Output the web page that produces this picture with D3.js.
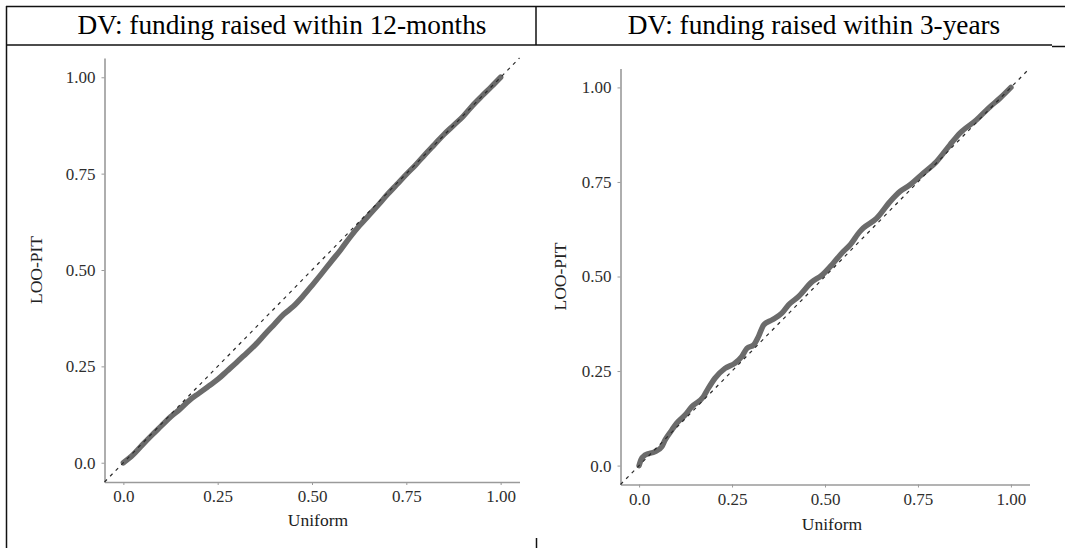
<!DOCTYPE html>
<html>
<head>
<meta charset="utf-8">
<script src="https://cdn.jsdelivr.net/npm/d3@7"></script>
<style>
  html, body { margin: 0; padding: 0; background: #fff; }
  svg { display: block; }
</style>
</head>
<body>
<svg id="chart" width="1065" height="548"></svg>
<script>
// ---- data ----
const panelTitles = ["DV: funding raised within 12-months", "DV: funding raised within 3-years"];
const xAxisTitle = "Uniform";
const yAxisTitle = "LOO-PIT";
const tickValues = [0, 0.25, 0.5, 0.75, 1.0];
const tickLabels = ["0.0", "0.25", "0.50", "0.75", "1.00"];

// left panel: uniform quantile vs sorted LOO-PIT
const uniformLeft = [0, 0.025, 0.05, 0.075, 0.1, 0.125, 0.15, 0.175, 0.2, 0.225, 0.25, 0.275, 0.3, 0.325, 0.35, 0.375, 0.4, 0.425, 0.45, 0.475, 0.5, 0.525, 0.55, 0.575, 0.6, 0.625, 0.65, 0.675, 0.7, 0.725, 0.75, 0.775, 0.8, 0.825, 0.85, 0.875, 0.9, 0.925, 0.95, 0.975, 1.0];
const pitLeft     = [0, 0.02, 0.046, 0.071, 0.095, 0.119, 0.139, 0.162, 0.18, 0.198, 0.216, 0.238, 0.26, 0.283, 0.306, 0.333, 0.359, 0.385, 0.405, 0.431, 0.46, 0.49, 0.521, 0.551, 0.584, 0.614, 0.641, 0.668, 0.696, 0.722, 0.748, 0.773, 0.8, 0.826, 0.852, 0.875, 0.898, 0.926, 0.951, 0.975, 1.0];

// right panel
const uniformRight = [0, 0.005, 0.016, 0.043, 0.061, 0.07, 0.088, 0.101, 0.124, 0.142, 0.173, 0.186, 0.204, 0.231, 0.258, 0.276, 0.29, 0.308, 0.321, 0.335, 0.357, 0.384, 0.402, 0.429, 0.464, 0.491, 0.522, 0.549, 0.567, 0.594, 0.603, 0.639, 0.675, 0.702, 0.728, 0.764, 0.8, 0.836, 0.863, 0.907, 0.944, 0.97, 1.0];
const pitRight     = [0, 0.015, 0.028, 0.037, 0.05, 0.068, 0.094, 0.112, 0.134, 0.156, 0.182, 0.204, 0.231, 0.257, 0.271, 0.288, 0.31, 0.319, 0.341, 0.372, 0.385, 0.403, 0.425, 0.447, 0.485, 0.503, 0.535, 0.566, 0.583, 0.619, 0.628, 0.654, 0.698, 0.725, 0.742, 0.773, 0.804, 0.848, 0.879, 0.914, 0.949, 0.971, 1.0];

const domain = [-0.05, 1.05];
const SERIF = '"Liberation Serif", "Times New Roman", serif';

const svg = d3.select("#chart");

// ---- table frame ----
const frame = svg.append("g").attr("stroke", "#111").attr("stroke-width", 1.5).attr("fill", "none");
frame.append("line").attr("x1", 6).attr("x2", 1065).attr("y1", 6.5).attr("y2", 6.5);
frame.append("line").attr("x1", 6).attr("x2", 1052).attr("y1", 45).attr("y2", 45);
frame.append("line").attr("x1", 1052).attr("x2", 1065).attr("y1", 46.5).attr("y2", 46.5);
frame.append("line").attr("x1", 6.5).attr("x2", 6.5).attr("y1", 6).attr("y2", 548);
frame.append("line").attr("x1", 536).attr("x2", 536).attr("y1", 6).attr("y2", 45);
frame.append("line").attr("x1", 536.5).attr("x2", 536.5).attr("y1", 538).attr("y2", 548);

// titles
const titleX = [282, 814];
panelTitles.forEach((t, i) => {
  svg.append("text").attr("x", titleX[i]).attr("y", 34)
    .attr("text-anchor", "middle").attr("font-size", 27.3).attr("fill", "#000")
    .style("font-family", SERIF).text(t);
});

// ---- panels ----
const panels = [
  { u: uniformLeft, v: pitLeft, xr: [104.5, 519.5], yr: [482, 58], ylabX: 42, xlabBase: 526, xlabShift: 6 },
  { u: uniformRight, v: pitRight, xr: [620.5, 1029.5], yr: [484.5, 68.5], ylabX: 566, xlabBase: 530, xlabShift: 7 }
];

panels.forEach(p => {
  const x = d3.scaleLinear().domain(domain).range(p.xr);
  const y = d3.scaleLinear().domain(domain).range(p.yr);
  const g = svg.append("g");

  const xAxis = d3.axisBottom(x).tickValues(tickValues).tickFormat((d, i) => tickLabels[i])
    .tickSizeInner(3).tickSizeOuter(0).tickPadding(5);
  const yAxis = d3.axisLeft(y).tickValues(tickValues).tickFormat((d, i) => tickLabels[i])
    .tickSizeInner(3).tickSizeOuter(0).tickPadding(6);

  const gx = g.append("g").attr("transform", `translate(0,${p.yr[0]})`).call(xAxis);
  const gy = g.append("g").attr("transform", `translate(${p.xr[0]},0)`).call(yAxis);
  [gx, gy].forEach(a => {
    a.attr("font-family", null);
    a.select(".domain").attr("stroke", "#9a9a9a").attr("stroke-width", 1.6);
    a.selectAll(".tick line").attr("stroke", "#9a9a9a").attr("stroke-width", 1);
    a.selectAll(".tick text").attr("font-size", 17).attr("fill", "#2e2e2e")
      .style("font-family", SERIF);
  });

  // data line
  const pts = p.u.map((d, i) => [d, p.v[i]]);
  const line = d3.line().x(d => x(d[0])).y(d => y(d[1])).curve(d3.curveMonotoneX);
  g.append("path").datum(pts).attr("d", line)
    .attr("fill", "none").attr("stroke", "#6b6b6b").attr("stroke-width", 5.5)
    .attr("stroke-linecap", "round").attr("stroke-linejoin", "round");

  // reference diagonal
  g.append("line")
    .attr("x1", x(domain[0])).attr("y1", y(domain[0]))
    .attr("x2", x(domain[1])).attr("y2", y(domain[1]))
    .attr("stroke", "#2a2a2a").attr("stroke-width", 1.2).attr("stroke-dasharray", "3.5,4.5");

  // axis titles
  g.append("text").attr("x", x(0.5) + p.xlabShift).attr("y", p.xlabBase)
    .attr("text-anchor", "middle").attr("font-size", 17.5).attr("fill", "#222")
    .style("font-family", SERIF).text(xAxisTitle);
  g.append("text")
    .attr("transform", `translate(${p.ylabX},${(p.yr[0] + p.yr[1]) / 2}) rotate(-90)`)
    .attr("text-anchor", "middle").attr("font-size", 17.5).attr("fill", "#222")
    .style("font-family", SERIF).text(yAxisTitle);
});
</script>
</body>
</html>
